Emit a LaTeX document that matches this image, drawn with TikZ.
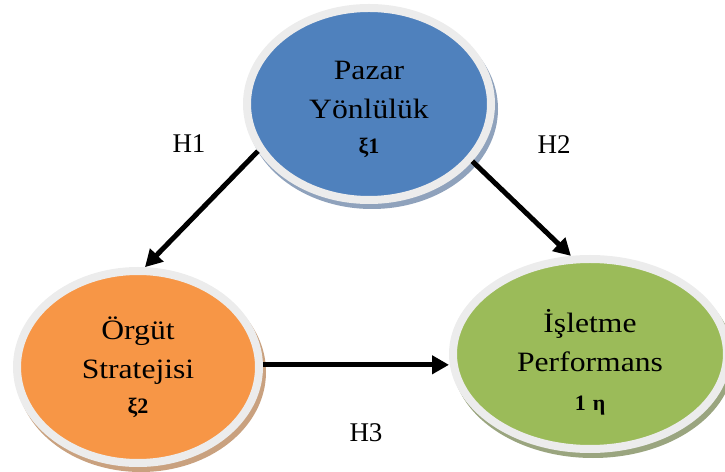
\documentclass[tikz,border=0pt]{standalone}
\usepackage{fontspec}
\setmainfont{Liberation Serif}
\newfontfamily\ellfont{Liberation Serif}[FakeStretch=1.13]
\usetikzlibrary{arrows.meta,shapes.geometric,shadows}
\definecolor{cblue}{HTML}{4F81BD}
\definecolor{corange}{HTML}{F79646}
\definecolor{cgreen}{HTML}{9BBB59}
\definecolor{ringc}{HTML}{ECECEC}
\definecolor{shblue}{HTML}{8FA2BC}
\definecolor{shorange}{HTML}{C9A17F}
\definecolor{shgreen}{HTML}{9AA57F}
\newcommand{\greekline}[1]{{\rmfamily\bfseries\fontsize{22}{22}\selectfont #1}}
\begin{document}
\begin{tikzpicture}[x=1pt,y=1pt,
  ell/.style={ellipse, draw=ringc, line width=8pt, inner sep=0pt, align=center,
    font=\ellfont\fontsize{28}{39}\selectfont, text=black},
  shad/.style={drop shadow={shadow xshift=3pt, shadow yshift=-5pt, fill=#1, draw=#1, line width=8pt, opacity=1}},
  arr/.style={-{Triangle[length=17pt,width=18pt]}, line width=5pt, black},
  hlab/.style={font=\fontsize{27}{30}\selectfont}]
\useasboundingbox (0,0) rectangle (725,471);

\node[ell, shad=shblue, fill=cblue, minimum width=244pt, minimum height=192pt] (top) at (369,367)
  {\rule{0pt}{30pt}Pazar\\Yönlülük\\[-4pt]\greekline{ξ1}};
\node[ell, shad=shorange, fill=corange, minimum width=242pt, minimum height=192pt] (left) at (138,104)
  {Örgüt\\Stratejisi\\[-4pt]\greekline{ξ2}};
\node[ell, shad=shgreen, fill=cgreen, minimum width=274pt, minimum height=190pt] (right) at (590,117)
  {\rule{0pt}{40pt}İşletme\\Performans\\\greekline{1\hspace{7pt}η}};

\draw[arr] (top.203.4) -- (left.86);
\draw[arr] (top.-29.2) -- (right.101.8);
\draw[arr] (left.1.4) -- (left.1.4 -| right.west);

\node[hlab] (h1) at (189,327) {H1};
\node[hlab] (h2) at (554,326) {H2};
\node[hlab] (h3) at (366,38) {H3};
\end{tikzpicture}
\end{document}
